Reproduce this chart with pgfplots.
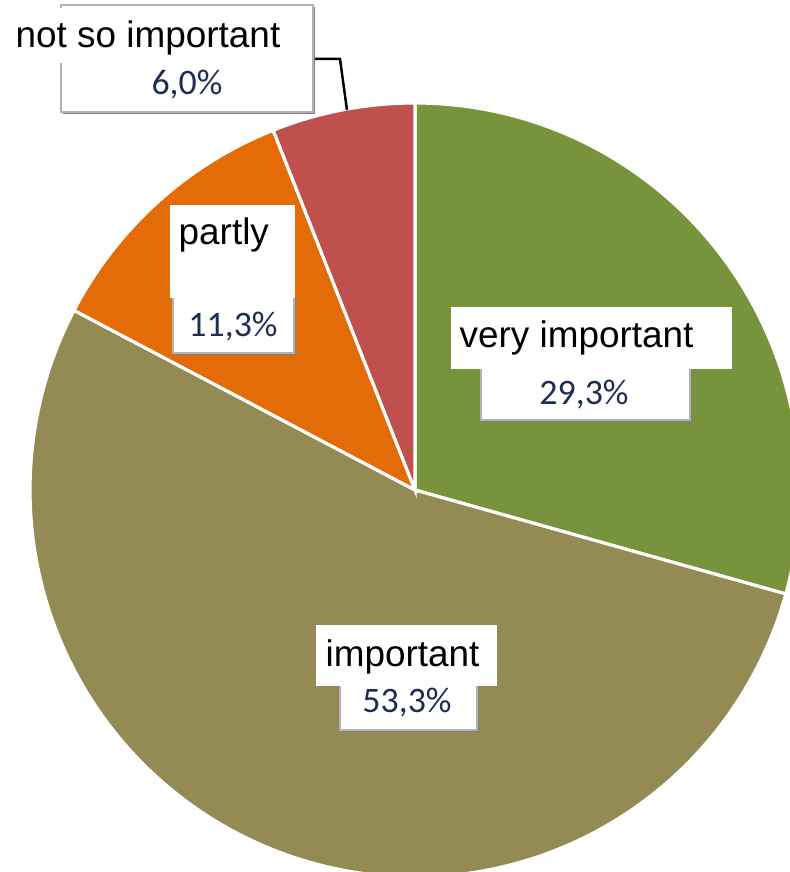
\documentclass[border=0pt]{standalone}
\usepackage{pgfplots}
\pgfplotsset{compat=1.18}
\usepackage{fontspec}
\setmainfont{Liberation Sans}
\newfontfamily\calfont{Carlito}
\definecolor{cVI}{HTML}{77933C}
\definecolor{cIM}{HTML}{948A54}
\definecolor{cPA}{HTML}{E36C09}
\definecolor{cNS}{HTML}{C0504D}
\definecolor{pct}{HTML}{1F2D55}
% data (percent)
\def\vVI{29.3}
\def\vIM{53.3}
\def\vPA{11.3}
\def\vNS{6.0}
\pgfmathsetmacro\tot{\vVI+\vIM+\vPA+\vNS}
\pgfmathsetmacro\aA{90}
\pgfmathsetmacro\aB{\aA-\vVI/\tot*360}
\pgfmathsetmacro\aC{\aB-\vIM/\tot*360}
\pgfmathsetmacro\aD{\aC-\vPA/\tot*360}
\pgfmathsetmacro\aE{\aD-\vNS/\tot*360}
\newcommand{\pctbox}[4]{%
  \fill[black!50] (axis cs:#1+2,872-#4-2) rectangle (axis cs:#3+2,872-#2-2);
  \filldraw[fill=white,draw=black!30,line width=0.4pt] (axis cs:#1,872-#4) rectangle (axis cs:#3,872-#2);}
\newcommand{\labbox}[4]{%
  \fill[white] (axis cs:#1,872-#4) rectangle (axis cs:#3,872-#2);}
\begin{document}
\begin{tikzpicture}
\begin{axis}[
  width=7.9cm, height=8.72cm, scale only axis,
  xmin=0, xmax=790, ymin=0, ymax=872,
  hide axis,
]
\addplot[fill=cVI, draw=white, line width=0.9pt, domain=\aB:\aA, samples=100, variable=\t]
  ({415+385*cos(\t)},{382+387*sin(\t)}) -- (axis cs:415,382) -- cycle;
\addplot[fill=cIM, draw=white, line width=0.9pt, domain=\aC:\aB, samples=150, variable=\t]
  ({415+385*cos(\t)},{382+387*sin(\t)}) -- (axis cs:415,382) -- cycle;
\addplot[fill=cPA, draw=white, line width=0.9pt, domain=\aD:\aC, samples=50, variable=\t]
  ({415+385*cos(\t)},{382+387*sin(\t)}) -- (axis cs:415,382) -- cycle;
\addplot[fill=cNS, draw=white, line width=0.9pt, domain=\aE:\aD, samples=40, variable=\t]
  ({415+385*cos(\t)},{382+387*sin(\t)}) -- (axis cs:415,382) -- cycle;

% very important
\pctbox{481}{365}{690}{420}
\labbox{451}{307}{732}{369}
\node[anchor=base west, inner sep=0, font=\fontsize{10.5}{12}\selectfont] at (axis cs:459,524) {very important};
\node[anchor=base, inner sep=0, text=pct, font=\calfont\fontsize{10.2}{12}\selectfont] at (axis cs:584,467) {29,3\%};
% important
\pctbox{340}{682}{477}{730}
\labbox{316}{625}{497}{686}
\node[anchor=base west, inner sep=0, font=\fontsize{10.5}{12}\selectfont] at (axis cs:325,205) {important};
\node[anchor=base, inner sep=0, text=pct, font=\calfont\fontsize{10.2}{12}\selectfont] at (axis cs:407,159) {53,3\%};
% partly
\pctbox{173}{295}{294}{353}
\labbox{170}{205}{295}{298}
\node[anchor=base west, inner sep=0, font=\fontsize{10.5}{12}\selectfont] at (axis cs:178,627) {partly};
\node[anchor=base, inner sep=0, text=pct, font=\calfont\fontsize{10.2}{12}\selectfont] at (axis cs:233,535) {11,3\%};
% not so important
\draw[black, line width=0.7pt] (axis cs:315,813) -- (axis cs:340,813) -- (axis cs:347,762);
\pctbox{61}{5}{313}{112}
\labbox{10}{8}{300}{63}
\node[anchor=base west, inner sep=0, font=\fontsize{10.5}{12}\selectfont] at (axis cs:15,824) {not so important};
\node[anchor=base, inner sep=0, text=pct, font=\calfont\fontsize{10.2}{12}\selectfont] at (axis cs:187,777) {6,0\%};
\end{axis}
\pgfresetboundingbox
\path[use as bounding box] (current axis.south west) rectangle (current axis.north east);
\end{tikzpicture}
\end{document}
